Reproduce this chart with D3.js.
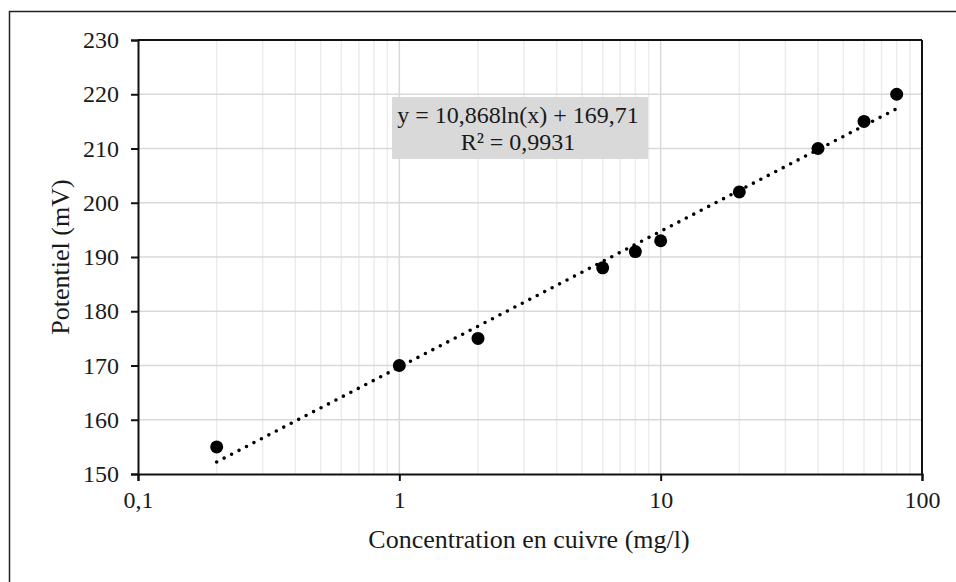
<!DOCTYPE html>
<html><head><meta charset="utf-8">
<script src="https://cdn.jsdelivr.net/npm/d3@7/dist/d3.min.js"></script>
<style>body{margin:0;background:#fff}svg{display:block}text{font-family:"Liberation Serif","Times New Roman",serif;fill:#1a1a1a}</style>
</head><body><svg id="c" width="956" height="582"></svg>
<script>
const concentrations = [0.2, 1, 2, 6, 8, 10, 20, 40, 60, 80];
const potentials = [155, 170, 175, 188, 191, 193, 202, 210, 215, 220];
const xTicks = [0.1, 1, 10, 100];
const xTickLabels = ["0,1", "1", "10", "100"];
const yTicks = [150, 160, 170, 180, 190, 200, 210, 220, 230];
const trendSlope = 10.868, trendIntercept = 169.71;
const trendLabel = ["y = 10,868ln(x) + 169,71", "R² = 0,9931"];

const svg = d3.select("#c");
const m = {l:138, r:922, t:40, b:474};
const x = d3.scaleLog().domain([0.1,100]).range([m.l,m.r]);
const y = d3.scaleLinear().domain([150,230]).range([m.b,m.t]);

svg.append("rect").attr("x",9.5).attr("y",11.5).attr("width",1000).attr("height",1000)
  .attr("fill","#fff").attr("stroke","#222").attr("stroke-width",1.5);

// minor vertical grid
const minor = [];
for (let d=0.1; d<100; d*=10) for (let k=2;k<=9;k++) minor.push(+(d*k).toFixed(4));
svg.append("g").selectAll("line").data(minor).join("line")
  .attr("x1",d=>x(d)).attr("x2",d=>x(d)).attr("y1",m.t).attr("y2",m.b)
  .attr("stroke","#ececec").attr("stroke-width",1.5);
svg.append("g").selectAll("line").data(xTicks.slice(1,-1)).join("line")
  .attr("x1",d=>x(d)).attr("x2",d=>x(d)).attr("y1",m.t).attr("y2",m.b)
  .attr("stroke","#d9d9d9").attr("stroke-width",1.5);
svg.append("g").selectAll("line").data(yTicks.slice(1,-1)).join("line")
  .attr("x1",m.l).attr("x2",m.r).attr("y1",d=>y(d)).attr("y2",d=>y(d))
  .attr("stroke","#d9d9d9").attr("stroke-width",1.5);

// frame
svg.append("line").attr("x1",m.l).attr("x2",m.r).attr("y1",m.t).attr("y2",m.t).attr("stroke","#111").attr("stroke-width",2);
svg.append("line").attr("x1",m.r).attr("x2",m.r).attr("y1",m.t).attr("y2",m.b).attr("stroke","#111").attr("stroke-width",2);

// axes
const xa = svg.append("g").attr("transform",`translate(0,${m.b})`)
  .call(d3.axisBottom(x).tickValues(xTicks).tickFormat((d,i)=>xTickLabels[i]).tickSize(7).tickPadding(10));
const ya = svg.append("g").attr("transform",`translate(${m.l},0)`)
  .call(d3.axisLeft(y).tickValues(yTicks).tickSize(7).tickPadding(12));
[xa,ya].forEach(g=>{
  g.select(".domain").attr("stroke","#111").attr("stroke-width",2);
  g.selectAll(".tick line").attr("stroke","#111").attr("stroke-width",2);
  g.selectAll(".tick text").attr("font-size",24).attr("fill","#1a1a1a")
   .style("font-family",'"Liberation Serif",serif');
});

// trendline
const tx = d3.range(0,201).map(i=>Math.exp(Math.log(0.2)+(Math.log(80)-Math.log(0.2))*i/200));
svg.append("path").datum(tx)
  .attr("d",d3.line().x(d=>x(d)).y(d=>y(trendSlope*Math.log(d)+trendIntercept)))
  .attr("fill","none").attr("stroke","#000").attr("stroke-width",3.6)
  .attr("stroke-dasharray","0 8.4").attr("stroke-linecap","round");

// points
svg.append("g").selectAll("circle").data(concentrations).join("circle")
  .attr("cx",d=>x(d)).attr("cy",(d,i)=>y(potentials[i])).attr("r",6.5).attr("fill","#000");

// label box
svg.append("rect").attr("x",392).attr("y",97).attr("width",256).attr("height",62).attr("fill","#d9d9d9");
svg.append("text").attr("x",518).attr("y",123).attr("text-anchor","middle").attr("font-size",24).text(trendLabel[0]);
svg.append("text").attr("x",518).attr("y",150).attr("text-anchor","middle").attr("font-size",24).text(trendLabel[1]);

// titles
svg.append("text").attr("x",529).attr("y",548).attr("text-anchor","middle").attr("font-size",26).text("Concentration en cuivre (mg/l)");
svg.append("text").attr("transform",`translate(69,${(m.t+m.b)/2}) rotate(-90)`).attr("text-anchor","middle").attr("font-size",26).text("Potentiel (mV)");
</script></body></html>
